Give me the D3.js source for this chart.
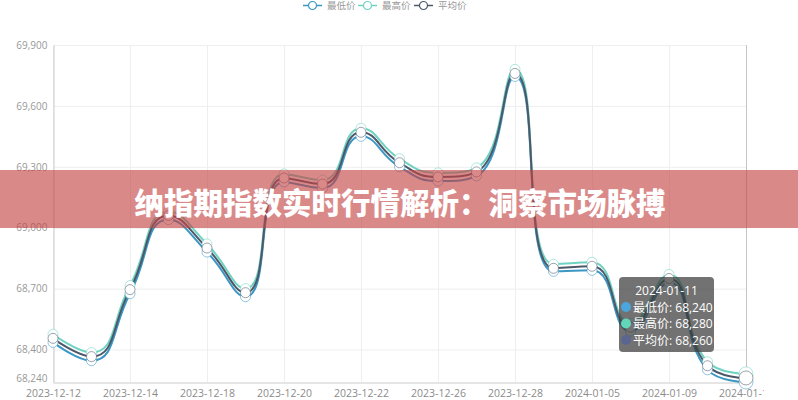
<!DOCTYPE html>
<html>
<head>
<meta charset="utf-8">
<script src="https://cdn.jsdelivr.net/npm/d3@7/dist/d3.min.js"></script>
<style>
  html, body { margin: 0; padding: 0; background: #fff; }
  svg { display: block; }
</style>
</head>
<body>
<svg id="chart" width="798" height="400"></svg>
<script>
// ---------- DATA ----------
const dates = ["2023-12-12","2023-12-13","2023-12-14","2023-12-15","2023-12-18","2023-12-19","2023-12-20","2023-12-21","2023-12-22","2023-12-25","2023-12-26","2023-12-27","2023-12-28","2024-01-02","2024-01-05","2024-01-08","2024-01-09","2024-01-10","2024-01-11"];
const lowPrices  = [68435, 68345, 68675, 69040, 68880, 68660, 69225, 69195, 69450, 69300, 69230, 69255, 69745, 68785, 68790, 68490, 68730, 68300, 68240];
const highPrices = [68475, 68385, 68715, 69080, 68920, 68700, 69265, 69235, 69490, 69340, 69270, 69295, 69780, 68820, 68830, 68530, 68770, 68340, 68280];
const avgPrices  = [68455, 68365, 68695, 69060, 68900, 68680, 69245, 69215, 69470, 69320, 69250, 69275, 69760, 68800, 68810, 68510, 68750, 68320, 68260];
const seriesNames = ["最低价", "最高价", "平均价"];
const yTicks = [68240, 68400, 68700, 69000, 69300, 69600, 69900];
const titleText = "纳指期指数实时行情解析：洞察市场脉搏";
const hoverIndex = 18;

// ---------- STYLE ----------
const W = 798, H = 400;
const M = { left: 53, right: 52, top: 45, bottom: 18 };
const colors = ["#3b97c4", "#6fd3c2", "#4d5869"];
const series = [lowPrices, highPrices, avgPrices];

const svg = d3.select("#chart");
const x = d3.scalePoint().domain(dates).range([M.left, W - M.right]);
const y = d3.scaleLinear().domain([68240, 69900]).range([H - M.bottom, M.top]);
const fmt = d3.format(",");
const font = "'Open Sans', 'Noto Sans CJK SC', sans-serif";

// ECharts-like smooth curve (smooth = 0.5 with constraints)
function echartsSmooth(context) {
  let pts = [];
  return {
    areaStart() {}, areaEnd() {},
    lineStart() { pts = []; },
    point(px, py) { pts.push([+px, +py]); },
    lineEnd() {
      const s = 0.5, n = pts.length;
      if (!n) return;
      context.moveTo(pts[0][0], pts[0][1]);
      let cpx0 = pts[0][0], cpy0 = pts[0][1];
      for (let i = 1; i < n; i++) {
        const [px, py] = pts[i - 1];
        const [cx, cy] = pts[i];
        let cpx1, cpy1, ncx, ncy;
        if (i === n - 1) { cpx1 = cx; cpy1 = cy; }
        else {
          const [nx, ny] = pts[i + 1];
          let vx = nx - px, vy = ny - py;
          const l0 = Math.hypot(cx - px, cy - py), l1 = Math.hypot(nx - cx, ny - cy);
          const r = l1 / (l0 + l1);
          ncx = cx + vx * s * r; ncy = cy + vy * s * r;
          ncx = Math.max(Math.min(ncx, Math.max(nx, cx)), Math.min(nx, cx));
          ncy = Math.max(Math.min(ncy, Math.max(ny, cy)), Math.min(ny, cy));
          vx = ncx - cx; vy = ncy - cy;
          cpx1 = cx - vx * l0 / l1; cpy1 = cy - vy * l0 / l1;
          cpx1 = Math.max(Math.min(cpx1, Math.max(px, cx)), Math.min(px, cx));
          cpy1 = Math.max(Math.min(cpy1, Math.max(py, cy)), Math.min(py, cy));
          vx = cx - cpx1; vy = cy - cpy1;
          ncx = cx + vx * l1 / l0; ncy = cy + vy * l1 / l0;
        }
        context.bezierCurveTo(cpx0, cpy0, cpx1, cpy1, cx, cy);
        cpx0 = ncx; cpy0 = ncy;
      }
    }
  };
}

// ---------- GRID ----------
const grid = svg.append("g");
grid.selectAll("line.h").data(yTicks).join("line")
  .attr("x1", M.left).attr("x2", W - M.right)
  .attr("y1", d => y(d) + 0.5).attr("y2", d => y(d) + 0.5)
  .attr("stroke", "#eeeeee");
const labeled = dates.filter((d, i) => i % 2 === 0);
grid.selectAll("line.v").data(labeled).join("line")
  .attr("x1", d => x(d) + 0.5).attr("x2", d => x(d) + 0.5)
  .attr("y1", M.top).attr("y2", H - M.bottom)
  .attr("stroke", "#eeeeee");

// ---------- AXES ----------
const yAxis = svg.append("g").attr("transform", `translate(${M.left + 0.5},0)`)
  .call(d3.axisLeft(y).tickValues(yTicks).tickFormat(fmt).tickSize(0).tickPadding(6));
yAxis.select(".domain").attr("stroke", "#cccccc");
yAxis.selectAll("text").attr("fill", "#999").style("font-family", font).style("font-size", "10px")
  .attr("dy", d => d === 68240 ? "-0.05em" : "0.32em");

svg.append("clipPath").attr("id", "xclip").append("rect")
  .attr("x", 0).attr("y", 0).attr("width", 764).attr("height", H);
const xAxis = svg.append("g").attr("transform", `translate(0,${H - M.bottom + 0.5})`)
  .attr("clip-path", "url(#xclip)")
  .call(d3.axisBottom(x).tickValues(labeled).tickSize(0).tickPadding(7.5));
xAxis.select(".domain").attr("stroke", "#cccccc");
xAxis.selectAll("text").attr("fill", "#8c8c8c").style("font-family", font).style("font-size", "10.5px");

// axis pointer
svg.append("line")
  .attr("x1", x(dates[hoverIndex]) + 0.5).attr("x2", x(dates[hoverIndex]) + 0.5)
  .attr("y1", M.top).attr("y2", H - M.bottom)
  .attr("stroke", "#c4c4c4").attr("stroke-width", 1);

// ---------- LINES ----------
const line = d3.line().x((d, i) => x(dates[i])).y(d => y(d)).curve(echartsSmooth);
series.forEach((vals, si) => {
  svg.append("path").datum(vals)
    .attr("d", line)
    .attr("fill", "none")
    .attr("stroke", colors[si])
    .attr("stroke-width", 2);
});
series.forEach((vals, si) => {
  svg.append("g").selectAll("circle").data(vals).join("circle")
    .attr("cx", (d, i) => x(dates[i]))
    .attr("cy", d => y(d))
    .attr("r", (d, i) => i === hoverIndex ? 7 : 5)
    .attr("fill", "#fff")
    .attr("stroke", colors[si])
    .attr("stroke-opacity", 0.55)
    .attr("stroke-width", 1);
});

// ---------- LEGEND ----------
const legend = svg.append("g");
const legendX = [303, 358, 414];
seriesNames.forEach((name, i) => {
  const g = legend.append("g").attr("transform", `translate(${legendX[i]},5)`);
  g.append("line").attr("x1", 0).attr("x2", 19).attr("y1", 0.5).attr("y2", 0.5)
    .attr("stroke", colors[i]).attr("stroke-width", 1.5);
  g.append("circle").attr("cx", 9.5).attr("cy", 0.5).attr("r", 4)
    .attr("fill", "#fff").attr("stroke", colors[i]).attr("stroke-width", 1.2);
  g.append("text").attr("x", 24).attr("y", 0.5).attr("dominant-baseline", "central")
    .attr("fill", "#999").style("font-family", font).style("font-size", "9.5px").text(name);
});

// ---------- TOOLTIP ----------
const tip = svg.append("g").attr("transform", "translate(619,277)");
tip.append("rect").attr("width", 95).attr("height", 75).attr("rx", 4)
  .attr("fill", "rgba(60,60,60,0.72)");
tip.append("text").attr("x", 47.5).attr("y", 13).attr("text-anchor", "middle")
  .attr("dominant-baseline", "central").attr("fill", "#fff")
  .style("font-family", font).style("font-size", "12px").text(dates[hoverIndex]);
const dotColors = ["#4aa6dc", "#62d6b8", "#5a6690"];
[0, 1, 2].forEach(i => {
  const cy = 30 + i * 16.5;
  tip.append("text").attr("x", 14).attr("y", cy).attr("dominant-baseline", "central")
    .attr("fill", "#fff").style("font-family", font).style("font-size", "12px")
    .text(seriesNames[i] + ": " + fmt(series[i][hoverIndex]));
  tip.append("circle").attr("cx", 7).attr("cy", cy).attr("r", 5).attr("fill", dotColors[i]);
});

// ---------- BANNER ----------
svg.append("rect").attr("x", 0).attr("y", 170).attr("width", W).attr("height", 58)
  .attr("fill", "rgba(196,64,64,0.62)");
svg.append("text").attr("x", 400).attr("y", 201)
  .attr("text-anchor", "middle").attr("dominant-baseline", "central")
  .attr("fill", "#fff").style("font-family", "'Noto Sans CJK SC', sans-serif")
  .style("font-weight", 900).style("font-size", "29.5px").text(titleText);
</script>
</body>
</html>
